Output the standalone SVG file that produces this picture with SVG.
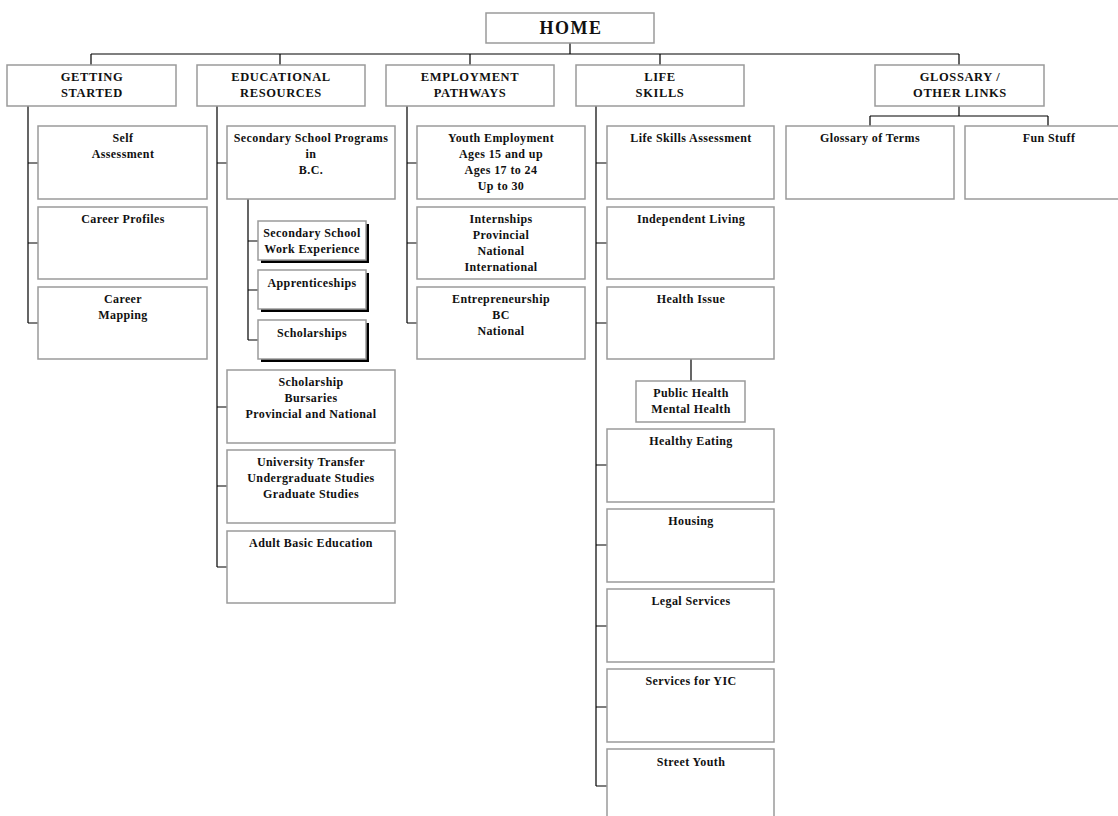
<svg xmlns="http://www.w3.org/2000/svg" width="1118" height="816" viewBox="0 0 1118 816">
<defs>
<style>
.box{fill:#fff;stroke:#9a9a9a;stroke-width:1.5}
.sh{fill:#000}
.ln{fill:none;stroke:#000;stroke-width:1.2}
text{font-family:"Liberation Serif","Times New Roman",serif;font-weight:bold;fill:#111;text-anchor:middle}
.t{font-size:12px;letter-spacing:0.4px}
.h{font-size:12.5px;letter-spacing:0.6px}
.home{font-size:18px;letter-spacing:1.5px}
</style>
</defs>
<rect width="1118" height="816" fill="#fff"/>
<g id="connectors" class="ln">
<path d="M570 43V54M91 54H959M91 54V65M280 54V65M470 54V65M660 54V65M959 54V65"/>
<path d="M28 106V323M28 163H38M28 243H38M28 323H38"/>
<path d="M217 106V567M217 163H227M217 407H227M217 486H227M217 567H227"/>
<path d="M248 199V340M248 241H258M248 290H258M248 340H258"/>
<path d="M407 106V323M407 163H417M407 243H417M407 323H417"/>
<path d="M596 106V786M596 163H607M596 243H607M596 323H607M596 465H607M596 545H607M596 626H607M596 707H607M596 786H607"/>
<path d="M691 359V381"/>
<path d="M959 106V116M870 116H1048M870 116V126M1048 116V126"/>
</g>
<g id="home"><rect class="box" x="486" y="13" width="168" height="30"/><text class="home" x="571" y="34">HOME</text></g>
<g id="getting-started"><rect class="box" x="7" y="65" width="169" height="41"/><text class="h" x="92" y="81">GETTING</text><text class="h" x="92" y="97">STARTED</text></g>
<g id="educational-resources"><rect class="box" x="197" y="65" width="168" height="41"/><text class="h" x="281" y="81">EDUCATIONAL</text><text class="h" x="281" y="97">RESOURCES</text></g>
<g id="employment-pathways"><rect class="box" x="386" y="65" width="168" height="41"/><text class="h" x="470" y="81">EMPLOYMENT</text><text class="h" x="470" y="97">PATHWAYS</text></g>
<g id="life-skills"><rect class="box" x="576" y="65" width="168" height="41"/><text class="h" x="660" y="81">LIFE</text><text class="h" x="660" y="97">SKILLS</text></g>
<g id="glossary-other"><rect class="box" x="875" y="65" width="169" height="41"/><text class="h" x="960" y="81">GLOSSARY /</text><text class="h" x="960" y="97">OTHER LINKS</text></g>

<g id="self-assessment"><rect class="box" x="38" y="126" width="169" height="73"/><text class="t" x="123" y="142">Self</text><text class="t" x="123" y="158">Assessment</text></g>
<g id="career-profiles"><rect class="box" x="38" y="207" width="169" height="72"/><text class="t" x="123" y="223">Career Profiles</text></g>
<g id="career-mapping"><rect class="box" x="38" y="287" width="169" height="72"/><text class="t" x="123" y="303">Career</text><text class="t" x="123" y="319">Mapping</text></g>

<g id="secondary-programs"><rect class="box" x="227" y="126" width="168" height="73"/><text class="t" x="311" y="142">Secondary School Programs</text><text class="t" x="311" y="158">in</text><text class="t" x="311" y="174">B.C.</text></g>
<g id="work-experience"><rect class="sh" x="261" y="224" width="108" height="39"/><rect class="box" x="258" y="221" width="108" height="39"/><text class="t" x="312" y="237">Secondary School</text><text class="t" x="312" y="253">Work Experience</text></g>
<g id="apprenticeships"><rect class="sh" x="261" y="273" width="108" height="39"/><rect class="box" x="258" y="270" width="108" height="39"/><text class="t" x="312" y="287">Apprenticeships</text></g>
<g id="scholarships"><rect class="sh" x="261" y="323" width="108" height="39"/><rect class="box" x="258" y="320" width="108" height="39"/><text class="t" x="312" y="337">Scholarships</text></g>
<g id="scholarship-bursaries"><rect class="box" x="227" y="370" width="168" height="73"/><text class="t" x="311" y="386">Scholarship</text><text class="t" x="311" y="402">Bursaries</text><text class="t" x="311" y="418">Provincial and National</text></g>
<g id="university-transfer"><rect class="box" x="227" y="450" width="168" height="73"/><text class="t" x="311" y="466">University Transfer</text><text class="t" x="311" y="482">Undergraduate Studies</text><text class="t" x="311" y="498">Graduate Studies</text></g>
<g id="adult-basic"><rect class="box" x="227" y="531" width="168" height="72"/><text class="t" x="311" y="547">Adult Basic Education</text></g>

<g id="youth-employment"><rect class="box" x="417" y="126" width="168" height="73"/><text class="t" x="501" y="142">Youth Employment</text><text class="t" x="501" y="158">Ages 15 and up</text><text class="t" x="501" y="174">Ages 17 to 24</text><text class="t" x="501" y="190">Up to 30</text></g>
<g id="internships"><rect class="box" x="417" y="207" width="168" height="72"/><text class="t" x="501" y="223">Internships</text><text class="t" x="501" y="239">Provincial</text><text class="t" x="501" y="255">National</text><text class="t" x="501" y="271">International</text></g>
<g id="entrepreneurship"><rect class="box" x="417" y="287" width="168" height="72"/><text class="t" x="501" y="303">Entrepreneurship</text><text class="t" x="501" y="319">BC</text><text class="t" x="501" y="335">National</text></g>

<g id="life-skills-assessment"><rect class="box" x="607" y="126" width="167" height="73"/><text class="t" x="691" y="142">Life Skills Assessment</text></g>
<g id="independent-living"><rect class="box" x="607" y="207" width="167" height="72"/><text class="t" x="691" y="223">Independent Living</text></g>
<g id="health-issue"><rect class="box" x="607" y="287" width="167" height="72"/><text class="t" x="691" y="303">Health Issue</text></g>
<g id="public-mental-health"><rect class="box" x="636" y="381" width="109" height="41"/><text class="t" x="691" y="397">Public Health</text><text class="t" x="691" y="413">Mental Health</text></g>
<g id="healthy-eating"><rect class="box" x="607" y="429" width="167" height="73"/><text class="t" x="691" y="445">Healthy Eating</text></g>
<g id="housing"><rect class="box" x="607" y="509" width="167" height="73"/><text class="t" x="691" y="525">Housing</text></g>
<g id="legal-services"><rect class="box" x="607" y="589" width="167" height="73"/><text class="t" x="691" y="605">Legal Services</text></g>
<g id="services-yic"><rect class="box" x="607" y="669" width="167" height="73"/><text class="t" x="691" y="685">Services for YIC</text></g>
<g id="street-youth"><rect class="box" x="607" y="749" width="167" height="73"/><text class="t" x="691" y="766">Street Youth</text></g>

<g id="glossary-terms"><rect class="box" x="786" y="126" width="168" height="73"/><text class="t" x="870" y="142">Glossary of Terms</text></g>
<g id="fun-stuff"><rect class="box" x="965" y="126" width="168" height="73"/><text class="t" x="1049" y="142">Fun Stuff</text></g>
</svg>
